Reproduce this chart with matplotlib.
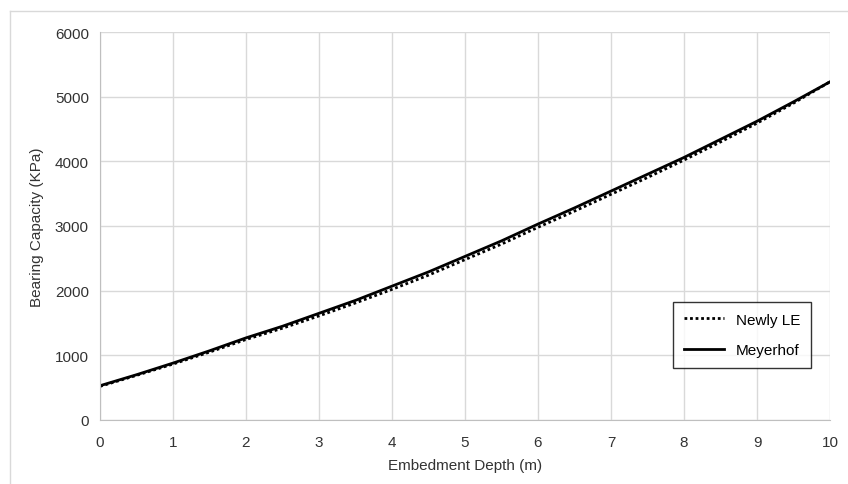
import matplotlib
matplotlib.use("Agg")
import matplotlib.pyplot as plt
from matplotlib.lines import Line2D

depth = [0, 0.5, 1, 1.5, 2, 2.5, 3, 3.5, 4, 4.5, 5, 5.5, 6, 6.5, 7, 7.5, 8, 8.5, 9, 9.5, 10]
meyerhof = [530, 700, 880, 1070, 1270, 1450, 1650, 1850, 2070, 2290, 2530, 2770, 3030,
            3280, 3540, 3800, 4060, 4340, 4620, 4920, 5230]
newly_le = [520, 690, 865, 1050, 1245, 1420, 1610, 1810, 2020, 2240, 2480, 2720, 2980,
            3230, 3490, 3750, 4020, 4300, 4590, 4900, 5230]

plt.rcParams['font.family'] = ['Liberation Sans', 'DejaVu Sans']

fig = plt.figure(figsize=(8.48, 4.85), dpi=100)
ax = fig.add_axes([100 / 848, 64 / 485, 730 / 848, 388 / 485])

# outer chart border
fig.add_artist(Line2D([10 / 848, 10 / 848], [0, 1 - 12 / 485], color='#d9d9d9', lw=1))
fig.add_artist(Line2D([10 / 848, 1], [1 - 12 / 485, 1 - 12 / 485], color='#d9d9d9', lw=1))

ax.plot(depth, newly_le, color='black', linestyle=(0, (1, 1)), lw=2, label='Newly LE')
ax.plot(depth, meyerhof, color='black', linestyle='-', lw=2, label='Meyerhof')

ax.set_xlim(0, 10)
ax.set_ylim(0, 6000)
ax.set_xticks(range(0, 11))
ax.set_yticks(range(0, 7000, 1000))
ax.grid(True, color='#d9d9d9', lw=1)
ax.set_axisbelow(True)
for s in ['top', 'right']:
    ax.spines[s].set_visible(False)
for s in ['left', 'bottom']:
    ax.spines[s].set_color('#bfbfbf')
ax.tick_params(length=0, labelsize=11, colors='#333333', pad=8)
ax.tick_params(axis='x', pad=11)

ax.set_xlabel("Embedment Depth (m)", fontsize=11, color='#333333', labelpad=6)
ax.set_ylabel("Bearing Capacity (KPa)", fontsize=11, color='#333333', labelpad=8)

lgd = ax.legend(loc='lower right', bbox_to_anchor=(0.974, 0.134), borderaxespad=0, frameon=True,
                fancybox=False, edgecolor='black', fontsize=11, handlelength=2.6, borderpad=0.7,
                labelspacing=1.1)
lgd.get_frame().set_linewidth(1)

fig.savefig("out.png", dpi=100)
